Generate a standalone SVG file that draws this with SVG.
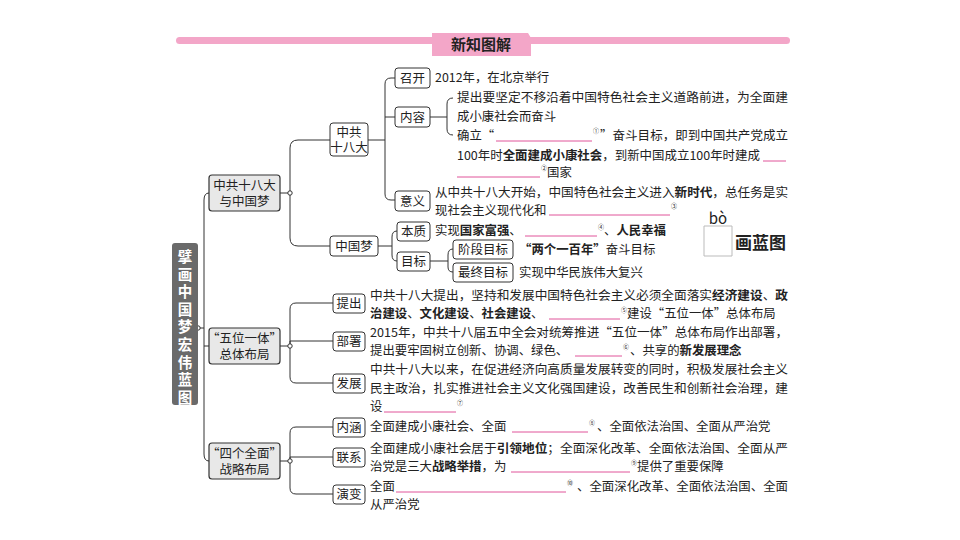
<svg xmlns="http://www.w3.org/2000/svg" width="960" height="540" viewBox="0 0 960 540">
<style>
text{font-family:"Noto Sans CJK SC","Liberation Serif",sans-serif;font-size:12.4px;fill:#222}
.b{font-weight:bold}
.leaf{fill:#fff;stroke:#333;stroke-width:1}
.l1{fill:#e8e8e8;stroke:#333;stroke-width:1.2}
.lt{font-size:12.5px;text-anchor:middle}
.l1t{font-size:12.5px;text-anchor:middle}
.bl{stroke:#e0559a;stroke-width:1}
.sup{font-size:6px}
.c{fill:none;stroke:#333;stroke-width:1}
.rt{font-size:14.5px;font-weight:bold;fill:#fff;text-anchor:middle}
</style>
<rect x="176" y="37" width="614" height="7" rx="3.5" fill="#f3a6c8"/>
<g id="title"><path d="M432,33 L528,33 L531,38 L531,56 L432,56 Z" fill="#f3a6c8"/><text x="481" y="50" class="b" text-anchor="middle" style="font-size:15px">新知图解</text></g>

<g id="connectors" class="c">
<path d="M198,328 H204 M204,328 V200 Q204,193 209,193 M204,328 V454 Q204,461 209,461 M204,346 H209"/>
<circle cx="198" cy="328" r="2.2" fill="#fff"/>
<path d="M280,193 H290 M290,193 V148 Q290,140 298,140 H330 M290,193 V238 Q290,246 298,246 H330"/>
<circle cx="290" cy="193" r="2.2" fill="#fff"/>
<path d="M368,140 H385 M385,140 V84 Q385,78 391,78 H395 M385,117 H395 M385,140 V194 Q385,200 391,200 H395"/>
<path d="M430,117 H447 M447,117 V104 Q447,98 453,98 M447,117 V129 Q447,135 453,135"/>
<path d="M378,246 H392 M392,246 V237 Q392,231 397,231 M392,246 V255 Q392,261 397,261"/>
<path d="M430,261 H448 M448,261 V255 Q448,249 453,249 M448,261 V267 Q448,272 453,272"/>
<path d="M280,346 H290 M290,346 V309 Q290,303 296,303 H333 M290,346 V341 H333 M290,346 V377 Q290,383 296,383 H333"/>
<circle cx="290" cy="346" r="2.2" fill="#fff"/>
<path d="M280,461 H290 M290,461 V433 Q290,427 296,427 H333 M290,461 V457 H333 M290,461 V488 Q290,494 296,494 H333"/>
<circle cx="290" cy="461" r="2.2" fill="#fff"/>
</g>

<g id="root"><rect x="172" y="243" width="26" height="162" rx="3" fill="#6a6a6a"/>
<text class="rt" x="185" y="262"><tspan x="185" dy="0">擘</tspan><tspan x="185" dy="17.6">画</tspan><tspan x="185" dy="17.6">中</tspan><tspan x="185" dy="17.6">国</tspan><tspan x="185" dy="17.6">梦</tspan><tspan x="185" dy="17.6">宏</tspan><tspan x="185" dy="17.6">伟</tspan><tspan x="185" dy="17.6">蓝</tspan><tspan x="185" dy="17.6">图</tspan></text></g>

<g id="n1"><rect class="l1" x="209" y="175" width="71" height="36" rx="3"/><text class="l1t" x="244.5" y="190">中共十八大</text><text class="l1t" x="244.5" y="206">与中国梦</text></g>
<g id="n2"><rect class="l1" x="209" y="328" width="71" height="36" rx="3"/><text class="l1t" x="244.5" y="343">“五位一体”</text><text class="l1t" x="244.5" y="359">总体布局</text></g>
<g id="n3"><rect class="l1" x="209" y="443" width="71" height="36" rx="3"/><text class="l1t" x="244.5" y="458">“四个全面”</text><text class="l1t" x="244.5" y="474">战略布局</text></g>

<g id="n1a"><rect class="leaf" x="330" y="123" width="38" height="33" rx="3"/><text class="lt" x="349" y="137">中共</text><text class="lt" x="349" y="152">十八大</text></g>
<g id="n1b"><rect class="leaf" x="330" y="236" width="48" height="20" rx="3"/><text class="lt" x="354" y="251">中国梦</text></g>
<g id="kk"><rect class="leaf" x="395" y="68" width="35" height="20" rx="3"/><text class="lt" x="412.5" y="83">召开</text></g>
<g id="nr"><rect class="leaf" x="395" y="107" width="35" height="20" rx="3"/><text class="lt" x="412.5" y="122">内容</text></g>
<g id="yy"><rect class="leaf" x="395" y="191" width="35" height="20" rx="3"/><text class="lt" x="412.5" y="206">意义</text></g>
<g id="bz"><rect class="leaf" x="397" y="222" width="33" height="19" rx="3"/><text class="lt" x="413.5" y="236">本质</text></g>
<g id="mb"><rect class="leaf" x="397" y="252" width="33" height="19" rx="3"/><text class="lt" x="413.5" y="266">目标</text></g>
<g id="jd"><rect class="leaf" x="453" y="240" width="60" height="19" rx="3"/><text class="lt" x="483" y="254">阶段目标</text></g>
<g id="zz"><rect class="leaf" x="453" y="263" width="60" height="19" rx="3"/><text class="lt" x="483" y="277">最终目标</text></g>
<g id="tc"><rect class="leaf" x="333" y="294" width="32" height="19" rx="3"/><text class="lt" x="349" y="308">提出</text></g>
<g id="bs"><rect class="leaf" x="333" y="332" width="32" height="19" rx="3"/><text class="lt" x="349" y="346">部署</text></g>
<g id="fz"><rect class="leaf" x="333" y="374" width="32" height="19" rx="3"/><text class="lt" x="349" y="388">发展</text></g>
<g id="nh"><rect class="leaf" x="333" y="418" width="32" height="19" rx="3"/><text class="lt" x="349" y="432">内涵</text></g>
<g id="lx"><rect class="leaf" x="333" y="448" width="32" height="19" rx="3"/><text class="lt" x="349" y="462">联系</text></g>
<g id="yb"><rect class="leaf" x="333" y="485" width="32" height="19" rx="3"/><text class="lt" x="349" y="499">演变</text></g>

<g id="texts">
<text x="435" y="82">2012年，在北京举行</text>
<text x="457" y="102" textLength="331" lengthAdjust="spacingAndGlyphs">提出要坚定不移沿着中国特色社会主义道路前进，为全面建</text>
<text x="457" y="121">成小康社会而奋斗</text>
<text x="457" y="140">确立“</text><line class="bl" x1="496" y1="141" x2="592" y2="141"/><text class="sup" x="593" y="133">①</text>
<text x="600" y="140" textLength="188" lengthAdjust="spacingAndGlyphs">”奋斗目标，即到中国共产党成立</text>
<text x="457" y="160" textLength="303" lengthAdjust="spacingAndGlyphs">100年时<tspan class="b">全面建成小康社会</tspan>，到新中国成立100年时建成</text><line class="bl" x1="763" y1="161" x2="786" y2="161"/>
<line class="bl" x1="457" y1="177" x2="540" y2="177"/><text class="sup" x="541" y="170">②</text><text x="547" y="177">国家</text>
<text x="435" y="197" textLength="353" lengthAdjust="spacingAndGlyphs">从中共十八大开始，中国特色社会主义进入<tspan class="b">新时代</tspan>，总任务是实</text>
<text x="435" y="215">现社会主义现代化和</text><line class="bl" x1="549" y1="215" x2="670" y2="215"/><text class="sup" x="671" y="208">③</text>
<text x="435" y="235">实现<tspan class="b">国家富强</tspan>、</text><line class="bl" x1="525" y1="236" x2="597" y2="236"/><text class="sup" x="598" y="229">④</text><text x="604" y="235">、<tspan class="b">人民幸福</tspan></text>
<text x="519" y="254"><tspan class="b">“两个一百年”</tspan>奋斗目标</text>
<text x="519" y="277">实现中华民族伟大复兴</text>
<text x="370" y="300" textLength="418" lengthAdjust="spacingAndGlyphs">中共十八大提出，坚持和发展中国特色社会主义必须全面落实<tspan class="b">经济建设</tspan>、<tspan class="b">政</tspan></text>
<text x="370" y="318"><tspan class="b">治建设</tspan>、<tspan class="b">文化建设</tspan>、<tspan class="b">社会建设</tspan>、</text><line class="bl" x1="549" y1="319" x2="620" y2="319"/><text class="sup" x="621" y="312">⑤</text><text x="627" y="318">建设“五位一体”总体布局</text>
<text x="370" y="337" textLength="418" lengthAdjust="spacingAndGlyphs">2015年，中共十八届五中全会对统筹推进“五位一体”总体布局作出部署，</text>
<text x="370" y="355">提出要牢固树立创新、协调、绿色、</text><line class="bl" x1="575" y1="356" x2="622" y2="356"/><text class="sup" x="623" y="349">⑥</text><text x="630" y="355">、共享的<tspan class="b">新发展理念</tspan></text>
<text x="370" y="374" textLength="418" lengthAdjust="spacingAndGlyphs">中共十八大以来，在促进经济向高质量发展转变的同时，积极发展社会主义</text>
<text x="370" y="393" textLength="418" lengthAdjust="spacingAndGlyphs">民主政治，扎实推进社会主义文化强国建设，改善民生和创新社会治理，建</text>
<text x="370" y="411">设</text><line class="bl" x1="384" y1="412" x2="456" y2="412"/><text class="sup" x="457" y="405">⑦</text>
<text x="370" y="431">全面建成小康社会、全面</text><line class="bl" x1="512" y1="432" x2="588" y2="432"/><text class="sup" x="589" y="425">⑧</text><text x="597" y="431">、全面依法治国、全面从严治党</text>
<text x="370" y="453" textLength="418" lengthAdjust="spacingAndGlyphs">全面建成小康社会居于<tspan class="b">引领地位</tspan>；全面深化改革、全面依法治国、全面从严</text>
<text x="370" y="471">治党是三大<tspan class="b">战略举措</tspan>，为</text><line class="bl" x1="511" y1="472" x2="630" y2="472"/><text class="sup" x="631" y="465">⑨</text><text x="637" y="471">提供了重要保障</text>
<text x="370" y="491">全面</text><line class="bl" x1="396" y1="492" x2="566" y2="492"/><text class="sup" x="567" y="485">⑩</text><text x="577" y="491" textLength="211" lengthAdjust="spacingAndGlyphs">、全面深化改革、全面依法治国、全面</text>
<text x="370" y="509">从严治党</text>
</g>
<g id="bo"><path d="M704,226 V256 M732,226 V256 M704,226 H732 M704,256 H732" fill="none" stroke="#bbb"/>
<text x="718" y="224" text-anchor="middle" style="font-size:15px">bò</text><text x="735" y="249" class="b" style="font-size:17px">画蓝图</text></g>
</svg>
